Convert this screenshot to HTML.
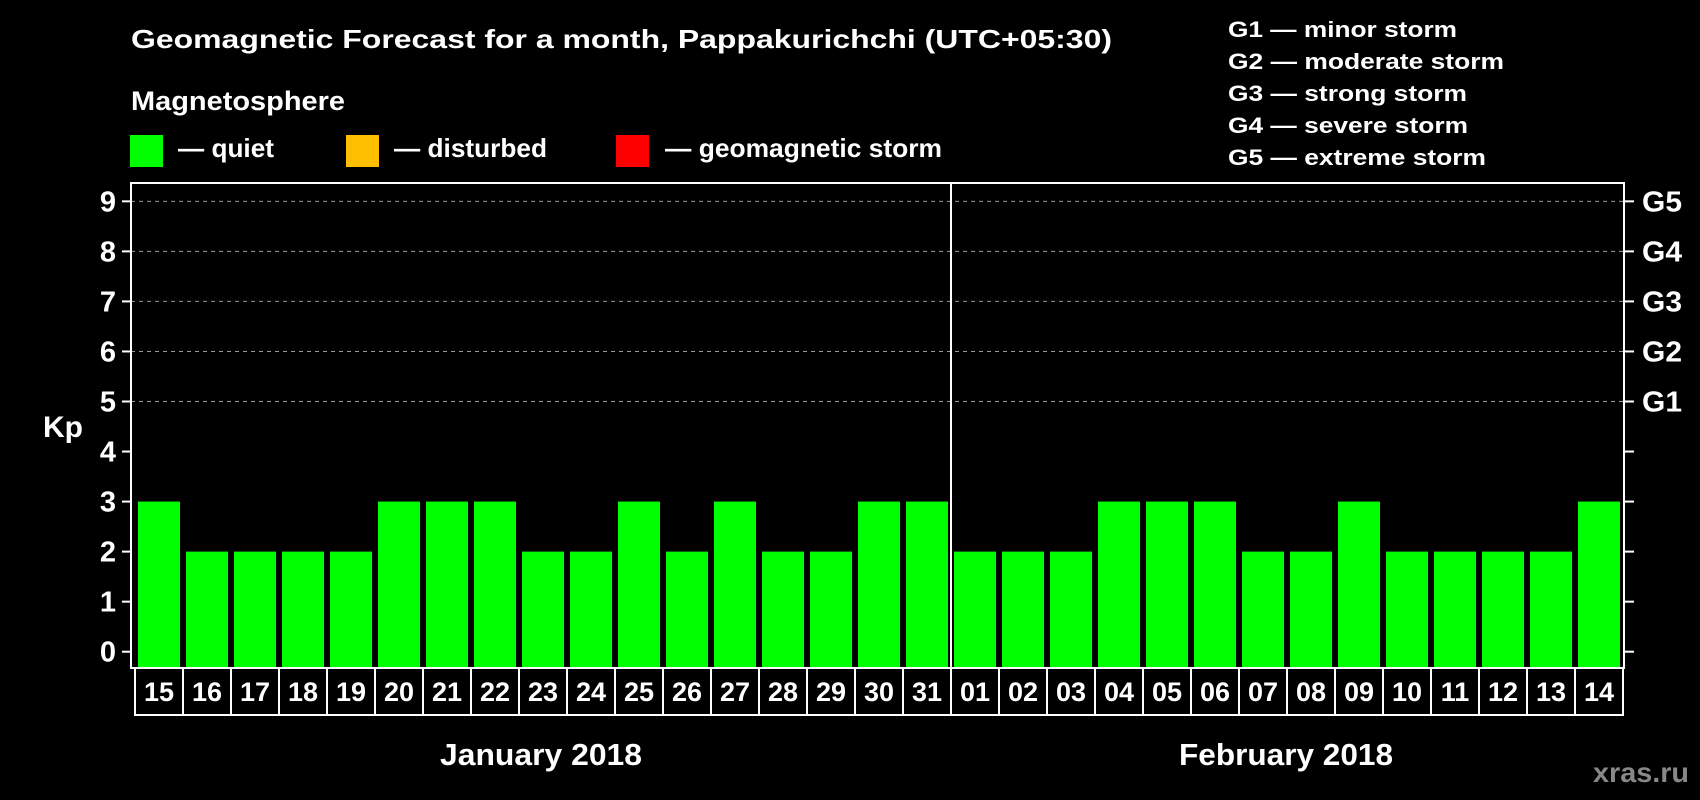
<!DOCTYPE html>
<html><head><meta charset="utf-8"><style>
html,body{margin:0;padding:0;background:#000;}
svg{display:block;font-family:"Liberation Sans",sans-serif;font-weight:bold;}
</style></head><body>
<svg width="1700" height="800" viewBox="0 0 1700 800">
<text x="131" y="48" font-size="26" fill="#fff" textLength="981" lengthAdjust="spacingAndGlyphs">Geomagnetic Forecast for a month, Pappakurichchi (UTC+05:30)</text>
<text x="131" y="110" font-size="27" fill="#fff" textLength="214" lengthAdjust="spacingAndGlyphs">Magnetosphere</text>
<g><rect x="130" y="135" width="33" height="32" fill="#00ff00"/><text x="178" y="157" font-size="26" fill="#fff" textLength="96" lengthAdjust="spacingAndGlyphs">— quiet</text></g>
<g><rect x="346" y="135" width="33" height="32" fill="#ffbf00"/><text x="394" y="157" font-size="26" fill="#fff" textLength="153" lengthAdjust="spacingAndGlyphs">— disturbed</text></g>
<g><rect x="616" y="135" width="33" height="32" fill="#ff0000"/><text x="665" y="157" font-size="26" fill="#fff" textLength="277" lengthAdjust="spacingAndGlyphs">— geomagnetic storm</text></g>
<g font-size="22" fill="#fff">
<text x="1228" y="37" textLength="229" lengthAdjust="spacingAndGlyphs">G1 — minor storm</text>
<text x="1228" y="69" textLength="276" lengthAdjust="spacingAndGlyphs">G2 — moderate storm</text>
<text x="1228" y="101" textLength="239" lengthAdjust="spacingAndGlyphs">G3 — strong storm</text>
<text x="1228" y="133" textLength="240" lengthAdjust="spacingAndGlyphs">G4 — severe storm</text>
<text x="1228" y="165" textLength="258" lengthAdjust="spacingAndGlyphs">G5 — extreme storm</text>
</g>
<text x="43" y="437" font-size="30" fill="#fff" textLength="40" lengthAdjust="spacingAndGlyphs">Kp</text>
<g id="chart"></g>
<text x="541" y="765" font-size="31" fill="#fff" text-anchor="middle" textLength="202" lengthAdjust="spacingAndGlyphs">January 2018</text>
<text x="1286" y="765" font-size="31" fill="#fff" text-anchor="middle" textLength="214" lengthAdjust="spacingAndGlyphs">February 2018</text>
<text x="1593" y="782" font-size="28" fill="#888" textLength="96" lengthAdjust="spacingAndGlyphs">xras.ru</text>
</svg>
<script>
const categories=["15","16","17","18","19","20","21","22","23","24","25","26","27","28","29","30","31","01","02","03","04","05","06","07","08","09","10","11","12","13","14"];
const kpValues=[3,2,2,2,2,3,3,3,2,2,3,2,3,2,2,3,3,2,2,2,3,3,3,2,2,3,2,2,2,2,3];
const yTicks=[0,1,2,3,4,5,6,7,8,9];
const gLabels=["G1","G2","G3","G4","G5"];
const gLevels=[5,6,7,8,9];
const NS="http://www.w3.org/2000/svg";
const g=document.getElementById("chart");
const L=131,R=1624,T=183,B=668,y0=651.7,unit=50.04,pitch=48,barW=42,bx0=138;
const y=v=>y0-v*unit;
const x=i=>bx0+i*pitch;
function mk(t,a,p){const e=document.createElementNS(NS,t);for(const k in a)e.setAttribute(k,a[k]);(p||g).appendChild(e);return e;}
gLevels.forEach(v=>{
 const l=mk("line",{x1:L,x2:R,y1:y(v),y2:y(v),stroke:"#999","stroke-width":1,"stroke-dasharray":"4,4"});
 
 
});
kpValues.forEach((v,i)=>{
 const c=v>=5?"#ff0000":(v>=4?"#ffbf00":"#00ff00");
 const r=mk("rect",{x:x(i),y:y(v),width:barW,height:B-y(v),fill:c});
 
 
});
const f=mk("rect",{x:L,y:T,width:R-L,height:B-T,fill:"none",stroke:"#fff","stroke-width":2});


const idx=categories.indexOf("01");
const d=mk("line",{x1:x(idx)-3,x2:x(idx)-3,y1:T,y2:B,stroke:"#fff","stroke-width":2});


yTicks.forEach(v=>{
 const t=mk("line",{x1:L-9,x2:L,y1:y(v),y2:y(v),stroke:"#fff","stroke-width":2});
 
 
 const t2=mk("line",{x1:R,x2:R+10,y1:y(v),y2:y(v),stroke:"#fff","stroke-width":2});
 
 
 const tx=mk("text",{x:116,y:y(v)+10,"font-size":29,fill:"#fff","text-anchor":"end"});
 tx.textContent=v;
 
 
});
gLabels.forEach((s,i)=>{
 const tx=mk("text",{x:1642,y:y(gLevels[i])+10,"font-size":29,fill:"#fff",textLength:40,lengthAdjust:"spacingAndGlyphs"});
 tx.textContent=s;
 
 
});
categories.forEach((c,i)=>{
 const r=mk("rect",{x:x(i)-3,y:B,width:pitch,height:47,fill:"none",stroke:"#fff","stroke-width":2});
 
 
 const tx=mk("text",{x:x(i)+barW/2,y:701,"font-size":27,fill:"#fff","text-anchor":"middle"});
 tx.textContent=c;
 
 
});
</script>
</body></html>
